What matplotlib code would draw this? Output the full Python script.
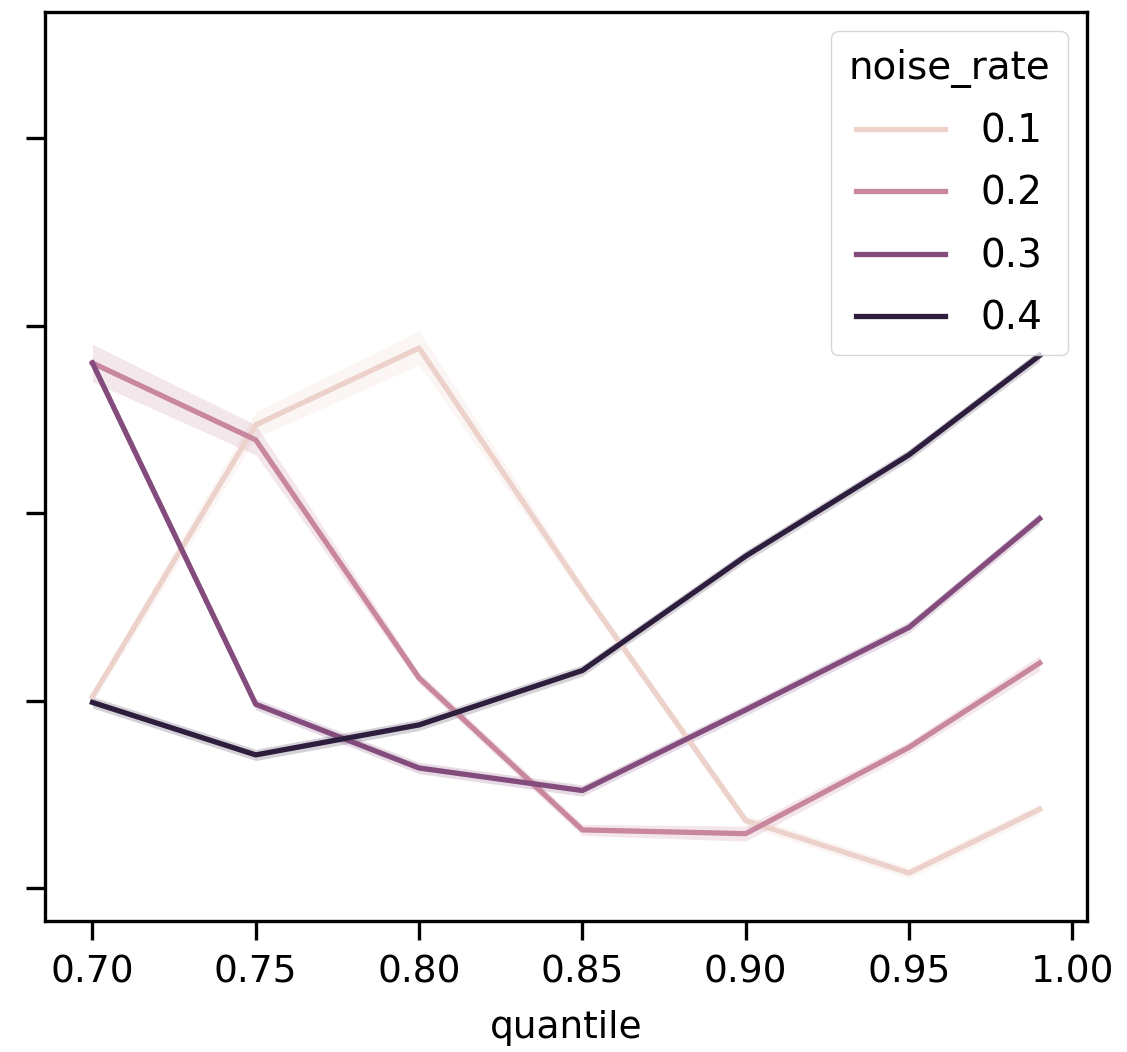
import numpy as np
import matplotlib
matplotlib.use("Agg")
import matplotlib.pyplot as plt
import seaborn as sns

# quantile values on the x axis
quantile = [0.70, 0.75, 0.80, 0.85, 0.90, 0.95, 0.99]
noise_rates = [0.1, 0.2, 0.3, 0.4]

# mean values per noise_rate (y axis has no tick labels, arbitrary units)
mean_01 = [1.02, 2.47, 2.88, 1.59, 0.36, 0.08, 0.42]
mean_02 = [2.80, 2.39, 1.12, 0.31, 0.29, 0.75, 1.20]
mean_03 = [2.80, 0.98, 0.64, 0.52, 0.95, 1.39, 1.97]
mean_04 = [0.99, 0.71, 0.87, 1.16, 1.77, 2.31, 2.84]

# half-width of the confidence band
ci_01 = [0.03, 0.07, 0.09, 0.03, 0.03, 0.03, 0.03]
ci_02 = [0.10, 0.08, 0.03, 0.03, 0.04, 0.03, 0.04]
ci_03 = [0.03, 0.03, 0.03, 0.03, 0.03, 0.03, 0.03]
ci_04 = [0.03, 0.03, 0.03, 0.03, 0.03, 0.03, 0.03]

means = [mean_01, mean_02, mean_03, mean_04]
cis = [ci_01, ci_02, ci_03, ci_04]

cmap = sns.cubehelix_palette(as_cmap=True)
norm = plt.Normalize(min(noise_rates), max(noise_rates))

plt.rcParams['font.family'] = ['DejaVu Sans']
fig = plt.figure(figsize=(11.27, 10.52), dpi=100)
ax = fig.add_axes([0.040, 0.1245, 0.9245, 0.8641])

for rate, m, c in zip(noise_rates, means, cis):
    color = cmap(norm(rate))
    m = np.array(m)
    c = np.array(c)
    ax.fill_between(quantile, m - c, m + c, color=color, alpha=0.2, linewidth=0)
    ax.plot(quantile, m, color=color, linewidth=3.8, label=str(rate))

ax.set_ylim(-0.176, 4.672)
ax.set_yticks([0, 1, 2, 3, 4])
ax.set_yticklabels([])
ax.set_xticks([0.70, 0.75, 0.80, 0.85, 0.90, 0.95, 1.00])
ax.set_xticklabels(['0.70', '0.75', '0.80', '0.85', '0.90', '0.95', '1.00'])
ax.tick_params(axis='both', labelsize=27, length=14, width=2.4, pad=10)
ax.set_xlabel('quantile', fontsize=27, labelpad=14)
for sp in ax.spines.values():
    sp.set_linewidth(2.4)

leg = ax.legend(title='noise_rate', loc='upper right', fontsize=28, title_fontsize=28,
                handlelength=2.3, handletextpad=0.9, borderpad=0.45, labelspacing=0.63,
                framealpha=0.8, borderaxespad=0.5)
for line in leg.get_lines():
    line.set_linewidth(3.8)

fig.savefig('out.png', dpi=100)
